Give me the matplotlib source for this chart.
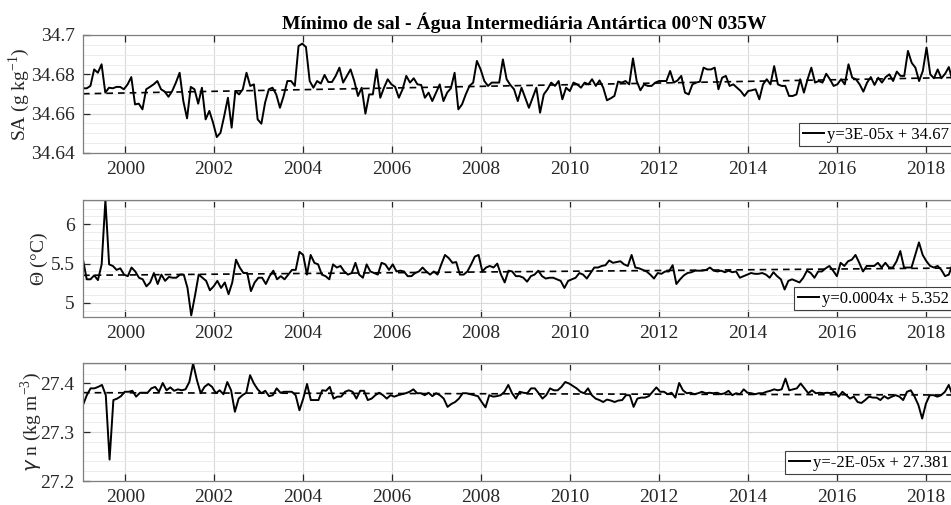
import numpy as np
import matplotlib
matplotlib.use('Agg')
import matplotlib.pyplot as plt
from matplotlib.ticker import MultipleLocator, FormatStrFormatter

plt.rcParams['font.family'] = 'Liberation Serif'
plt.rcParams['mathtext.fontset'] = 'custom'
plt.rcParams['mathtext.rm'] = 'Liberation Serif'

# ---- data (monthly series, 1999 - 2018) ----
t_start, t_end = 1999.05, 2018.6

sa = [34.6729, 34.6729, 34.6741, 34.6825, 34.6808, 34.6851, 34.6707, 34.6732, 34.6729, 34.6736,
      34.6736, 34.6724, 34.6749, 34.6786, 34.6647, 34.6651, 34.6622, 34.6724, 34.6736, 34.6749,
      34.6766, 34.6724, 34.6712, 34.6686, 34.6715, 34.6758, 34.6808, 34.6664, 34.6576, 34.6736,
      34.6724, 34.6651, 34.6732, 34.6571, 34.6614, 34.6554, 34.6481, 34.6503, 34.6588, 34.6681,
      34.6529, 34.6715, 34.6698, 34.6724, 34.6808, 34.6741, 34.6749, 34.6571, 34.6549, 34.6656,
      34.6724, 34.6732, 34.6698, 34.6630, 34.6690, 34.6766, 34.6766, 34.6741, 34.6944, 34.6956,
      34.6939, 34.6766, 34.6732, 34.6766, 34.6753, 34.6797, 34.6761, 34.6761, 34.6792, 34.6834,
      34.6758, 34.6792, 34.6825, 34.6766, 34.6690, 34.6732, 34.6600, 34.6698, 34.6698, 34.6825,
      34.6681, 34.6732, 34.6775, 34.6749, 34.6736, 34.6681, 34.6724, 34.6792, 34.6758, 34.6780,
      34.6749, 34.6746, 34.6681, 34.6707, 34.6664, 34.6707, 34.6749, 34.6664, 34.6707, 34.6729,
      34.6808, 34.6622, 34.6647, 34.6698, 34.6741, 34.6758, 34.6868,
      34.6825, 34.6766, 34.6741, 34.6758, 34.6758, 34.6758, 34.6876, 34.6775, 34.6746, 34.6724,
      34.6664, 34.6732, 34.6681, 34.6630, 34.6681, 34.6732, 34.6605, 34.6698, 34.6724, 34.6758,
      34.6741, 34.6766, 34.6673, 34.6732, 34.6715, 34.6758, 34.6749, 34.6732, 34.6758, 34.6749,
      34.6775, 34.6741, 34.6769, 34.6732, 34.6668, 34.6678, 34.6690, 34.6763, 34.6758, 34.6766,
      34.6749, 34.6881, 34.6766, 34.6719, 34.6749, 34.6741, 34.6741, 34.6758, 34.6766, 34.6766,
      34.6766, 34.6817, 34.6758, 34.6769, 34.6792, 34.6707, 34.6698, 34.6749, 34.6758, 34.6763,
      34.6834, 34.6825, 34.6825, 34.6834, 34.6724, 34.6783, 34.6792, 34.6741, 34.6749, 34.6732,
      34.6715, 34.6690, 34.6715, 34.6719, 34.6724, 34.6673, 34.6749, 34.6775, 34.6749, 34.6842,
      34.6749, 34.6741, 34.6741, 34.6690, 34.6690, 34.6698, 34.6775, 34.6707, 34.6775, 34.6834,
      34.6758, 34.6766, 34.6758, 34.6803, 34.6775, 34.6741, 34.6749, 34.6775, 34.6749, 34.6851,
      34.6783, 34.6775, 34.6749, 34.6712, 34.6758, 34.6786, 34.6746, 34.6783, 34.6758, 34.6786,
      34.6800, 34.6766, 34.6814, 34.6792, 34.6792, 34.6919, 34.6859, 34.6834, 34.6766, 34.6817,
      34.6936, 34.6800, 34.6780, 34.6825, 34.6780, 34.6803, 34.6837, 34.6766]

theta = [5.55, 5.30, 5.30, 5.35, 5.29, 5.49, 6.31, 5.49, 5.47, 5.42,
         5.44, 5.36, 5.34, 5.45, 5.40, 5.32, 5.30, 5.21, 5.26, 5.38,
         5.24, 5.36, 5.28, 5.33, 5.32, 5.32, 5.36, 5.36, 5.19, 4.84,
         5.09, 5.36, 5.32, 5.28, 5.16, 5.21, 5.28, 5.19, 5.26, 5.11,
         5.26, 5.55, 5.45, 5.38, 5.38, 5.15, 5.26, 5.32, 5.32, 5.24,
         5.34, 5.41, 5.30, 5.34, 5.30, 5.36, 5.42, 5.42, 5.65, 5.61,
         5.36, 5.61, 5.51, 5.49, 5.36, 5.34, 5.30, 5.49, 5.45, 5.47,
         5.40, 5.36, 5.38, 5.51, 5.36, 5.32, 5.49, 5.40, 5.38, 5.36,
         5.51, 5.49, 5.42, 5.49, 5.40, 5.41, 5.40, 5.34, 5.34, 5.38,
         5.40, 5.45, 5.40, 5.36, 5.40, 5.36, 5.49, 5.61, 5.57, 5.51,
         5.52, 5.36, 5.36, 5.40, 5.49, 5.59, 5.61,
         5.40, 5.45, 5.47, 5.45, 5.50, 5.36, 5.26, 5.41, 5.40, 5.34,
         5.34, 5.32, 5.27, 5.34, 5.36, 5.41, 5.34, 5.31, 5.32, 5.32,
         5.30, 5.28, 5.19, 5.28, 5.30, 5.32, 5.38, 5.36, 5.31, 5.38,
         5.45, 5.45, 5.47, 5.48, 5.54, 5.51, 5.52, 5.53, 5.49, 5.47,
         5.61, 5.45, 5.44, 5.42, 5.40, 5.36, 5.31, 5.38, 5.37, 5.40,
         5.40, 5.48, 5.24, 5.30, 5.35, 5.38, 5.39, 5.41, 5.41, 5.41,
         5.42, 5.45, 5.41, 5.40, 5.41, 5.39, 5.41, 5.39, 5.40, 5.32,
         5.34, 5.36, 5.38, 5.37, 5.37, 5.38, 5.36, 5.32, 5.39, 5.34,
         5.30, 5.17, 5.28, 5.30, 5.28, 5.26, 5.32, 5.41, 5.38, 5.32,
         5.40, 5.40, 5.44, 5.47, 5.41, 5.34, 5.51, 5.47, 5.53, 5.55,
         5.61, 5.51, 5.40, 5.47, 5.47, 5.47, 5.51, 5.45, 5.51, 5.45,
         5.45, 5.53, 5.66, 5.45, 5.45, 5.45, 5.61, 5.77, 5.61, 5.53,
         5.47, 5.45, 5.47, 5.42, 5.34, 5.36, 5.49]

gamma = [27.356, 27.376, 27.390, 27.390, 27.393, 27.397, 27.376, 27.244, 27.366, 27.369,
         27.374, 27.383, 27.383, 27.385, 27.373, 27.381, 27.381, 27.381, 27.390, 27.393,
         27.383, 27.401, 27.386, 27.392, 27.385, 27.388, 27.386, 27.388, 27.403, 27.441,
         27.407, 27.380, 27.393, 27.399, 27.393, 27.380, 27.386, 27.378, 27.403, 27.386,
         27.342, 27.369, 27.376, 27.381, 27.417, 27.400, 27.388, 27.380, 27.385, 27.374,
         27.376, 27.390, 27.381, 27.383, 27.383, 27.383, 27.376, 27.345, 27.369, 27.399,
         27.366, 27.366, 27.366, 27.386, 27.385, 27.393, 27.369, 27.373, 27.373, 27.383,
         27.386, 27.383, 27.369, 27.385, 27.385, 27.366, 27.369, 27.376, 27.381, 27.376,
         27.369, 27.376, 27.373, 27.376, 27.378, 27.380, 27.383, 27.388, 27.380, 27.380,
         27.376, 27.381, 27.374, 27.380, 27.376, 27.369, 27.352, 27.358, 27.362, 27.369,
         27.380, 27.380, 27.378, 27.376, 27.374, 27.362, 27.351,
         27.376, 27.373, 27.374, 27.376, 27.383, 27.397, 27.380, 27.369, 27.383, 27.381,
         27.380, 27.390, 27.390, 27.380, 27.369, 27.376, 27.390, 27.386, 27.386, 27.393,
         27.403, 27.400, 27.395, 27.390, 27.383, 27.380, 27.390, 27.376, 27.369, 27.366,
         27.362, 27.367, 27.365, 27.362, 27.365, 27.366, 27.376, 27.376, 27.352, 27.369,
         27.371, 27.371, 27.374, 27.383, 27.392, 27.383, 27.383, 27.378, 27.381, 27.371,
         27.401, 27.386, 27.380, 27.381, 27.378, 27.380, 27.383, 27.380, 27.381, 27.380,
         27.381, 27.378, 27.380, 27.385, 27.376, 27.380, 27.378, 27.388, 27.381, 27.380,
         27.378, 27.380, 27.380, 27.383, 27.385, 27.388, 27.386, 27.388, 27.410, 27.386,
         27.388, 27.390, 27.400, 27.390, 27.380, 27.386, 27.380, 27.381, 27.380, 27.381,
         27.380, 27.383, 27.373, 27.383, 27.376, 27.369, 27.373, 27.362, 27.360, 27.366,
         27.373, 27.371, 27.371, 27.366, 27.374, 27.369, 27.373, 27.376, 27.373, 27.366,
         27.383, 27.386, 27.373, 27.356, 27.328, 27.359, 27.376, 27.376, 27.373, 27.376,
         27.383, 27.397, 27.376]

labels = ['SA (g kg$^{-1}$)', r'$\Theta$ (°C)', r'$\gamma$ n (kg m$^{-3}$)']
legends = ['y=3E-05x + 34.67', 'y=0.0004x + 5.352', 'y=-2E-05x + 27.381']
ylims = [(34.64, 34.70), (4.82, 6.31), (27.2, 27.442)]
yticks = [[34.64, 34.66, 34.68, 34.7], [5, 5.5, 6], [27.2, 27.3, 27.4]]
yminor = [0.005, 0.1, 0.02]
title = 'Mínimo de sal - Água Intermediária Antártica 00°N 035W'

#--------------------#
fig = plt.figure(figsize=(9.51, 5.05), dpi=100)
W, H = 951., 505.
left, width = 83 / W, 882 / W
boxes = [(35, 153), (200, 317), (363, 481)]
label_x = [-0.058, -0.037, -0.0445]

for i, series in enumerate([sa, theta, gamma]):
    top, bot = boxes[i]
    ax = fig.add_axes([left, 1 - bot / H, width, (bot - top) / H])
    y = np.array(series)
    t = np.linspace(t_start, t_end, len(y))
    ax.plot(t, y, color='k', lw=1.4, label=legends[i])
    p = np.polyfit(t, y, 1)
    ax.plot(t, np.polyval(p, t), color='k', lw=1.2, ls=(0, (4, 3)))

    ax.set_xlim(1999.05, 2018.88)
    ax.set_ylim(*ylims[i])
    ax.set_xticks(range(2000, 2019, 2))
    ax.set_yticks(yticks[i])
    ax.yaxis.set_major_formatter(FormatStrFormatter('%g'))
    ax.yaxis.set_minor_locator(MultipleLocator(yminor[i]))
    ax.grid(True, which='major', color='#d9d9d9', lw=0.8)
    ax.grid(True, which='minor', axis='y', color='#ececec', lw=0.7)
    ax.set_axisbelow(True)
    ax.tick_params(which='major', direction='in', length=5, width=0.9,
                   top=True, labelsize=14, colors='#262626', pad=6)
    ax.tick_params(which='minor', length=0)
    for s in ax.spines.values():
        s.set_color('#7f7f7f')
        s.set_linewidth(0.9)
    ax.set_ylabel(labels[i], fontsize=14, color='#262626')
    ax.yaxis.set_label_coords(label_x[i], 0.5)
    leg = ax.legend(loc='lower right', fontsize=12, handlelength=1.3,
                    handletextpad=0.15, borderpad=0.2, borderaxespad=0,
                    bbox_to_anchor=(952 / W, 1 - (bot - 7) / H),
                    bbox_transform=fig.transFigure,
                    fancybox=False, framealpha=1)
    leg.get_frame().set_edgecolor('#404040')
    leg.get_frame().set_linewidth(0.8)
    if i == 0:
        ax.set_title(title, fontsize=14, fontweight='bold', pad=4)

fig.savefig('out.png', dpi=100)
